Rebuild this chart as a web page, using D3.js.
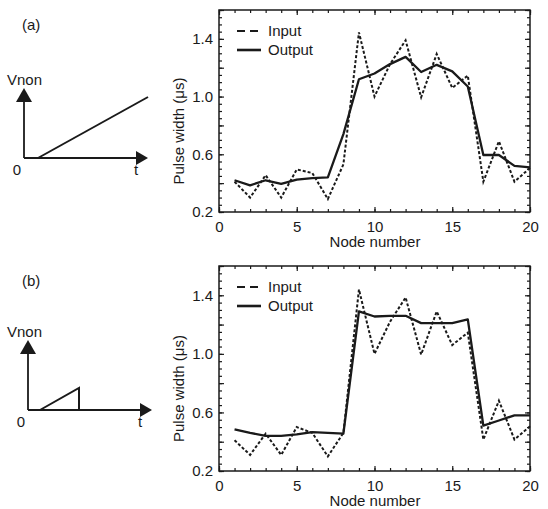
<!DOCTYPE html>
<html>
<head>
<meta charset="utf-8">
<script src="https://cdn.jsdelivr.net/npm/d3@7"></script>
<style>
  body { margin: 0; background: #fff; }
  text { font-family: "Liberation Sans", Arial, sans-serif; fill: #1a1a1a; }
</style>
</head>
<body>
<svg width="548" height="509"></svg>
<script>
// node index along the x axis
var nodes = d3.range(1, 21);

// (a) ramp that keeps rising
var inputA  = [0.41, 0.30, 0.455, 0.30, 0.495, 0.47, 0.29, 0.53, 1.445, 1.00,
               1.225, 1.39, 0.995, 1.295, 1.06, 1.145, 0.41, 0.69, 0.41, 0.505];
var outputA = [0.42, 0.385, 0.42, 0.395, 0.425, 0.435, 0.44, 0.74, 1.12, 1.16,
               1.225, 1.275, 1.17, 1.22, 1.175, 1.07, 0.595, 0.595, 0.52, 0.51];

// (b) ramp cut off early
var inputB  = [0.41, 0.31, 0.455, 0.31, 0.50, 0.46, 0.30, 0.46, 1.44, 1.00,
               1.22, 1.385, 0.995, 1.29, 1.06, 1.145, 0.415, 0.68, 0.415, 0.505];
var outputB = [0.485, 0.46, 0.44, 0.44, 0.45, 0.465, 0.46, 0.455, 1.29, 1.255,
               1.26, 1.26, 1.21, 1.21, 1.21, 1.235, 0.51, 0.545, 0.58, 0.58];

var xTicks = [0, 5, 10, 15, 20];
var yTicks = [0.2, 0.6, 1.0, 1.4];
var seriesNames = ["Input", "Output"];

var ink = "#1a1a1a";
var svg = d3.select("svg");

function panel(top, bottom, label, inp, out, cut, dy) {
    var x = d3.scaleLinear().domain([0, 20]).range([219, 530]);
    var y = d3.scaleLinear().domain([0.2, 1.6]).range([bottom, top]);
    var g = svg.append("g");

    // minor + major ticks, all inward
    var minorY = d3.range(0.2, 1.6001, 0.05), majorY = d3.range(0.2, 1.6001, 0.2);
    var minorX = d3.range(0, 21, 1);
    [[d3.axisLeft, 219, y, minorY, -3], [d3.axisRight, 530, y, minorY, -3],
     [d3.axisLeft, 219, y, majorY, -5], [d3.axisRight, 530, y, majorY, -5]].forEach(a => {
        g.append("g").attr("transform", "translate(" + a[1] + ",0)")
            .call(a[0](a[2]).tickValues(a[3]).tickSize(a[4]).tickFormat(""));
    });
    [[d3.axisBottom, bottom, minorX, -3], [d3.axisTop, top, minorX, -3],
     [d3.axisBottom, bottom, xTicks, -5], [d3.axisTop, top, xTicks, -5]].forEach(a => {
        g.append("g").attr("transform", "translate(0," + a[1] + ")")
            .call(a[0](x).tickValues(a[2]).tickSize(a[3]).tickFormat(""));
    });
    g.selectAll(".domain").remove();
    g.selectAll(".tick line").attr("stroke", ink).attr("stroke-width", 1.2);

    // labelled axes
    g.append("g").attr("transform", "translate(219,0)")
        .call(d3.axisLeft(y).tickValues(yTicks).tickSize(0).tickPadding(6).tickFormat(d3.format(".1f")));
    g.append("g").attr("transform", "translate(0," + bottom + ")")
        .call(d3.axisBottom(x).tickValues(xTicks).tickSize(0).tickPadding(9));
    g.selectAll(".domain").remove();
    g.selectAll(".tick text").attr("font-size", 15).attr("fill", ink)
        .attr("font-family", "'Liberation Sans', Arial, sans-serif");

    g.append("rect").attr("x", 219).attr("y", top).attr("width", 311).attr("height", bottom - top)
        .attr("fill", "none").attr("stroke", ink).attr("stroke-width", 1.5);

    g.append("text").attr("x", 375).attr("y", bottom + 35).attr("text-anchor", "middle")
        .attr("font-size", 15).text("Node number");
    g.append("text").attr("transform", "translate(184," + ((top + bottom) / 2 + 20) + ") rotate(-90)")
        .attr("text-anchor", "middle").attr("font-size", 15).text("Pulse width (\u03bcs)");

    var line = d3.line().x((d, i) => x(nodes[i])).y(d => y(d));
    g.append("path").attr("d", line(inp)).attr("fill", "none").attr("stroke", ink)
        .attr("stroke-width", 2).attr("stroke-dasharray", "3,2");
    g.append("path").attr("d", line(out)).attr("fill", "none").attr("stroke", ink)
        .attr("stroke-width", 2.3).attr("stroke-linejoin", "round");

    // legend
    seriesNames.forEach((s, i) => {
        var ly = top + 21 + i * 19;
        g.append("line").attr("x1", 237).attr("x2", 261).attr("y1", ly).attr("y2", ly)
            .attr("stroke", ink).attr("stroke-width", i ? 2.6 : 2)
            .attr("stroke-dasharray", i ? null : "8,5");
        g.append("text").attr("x", 268).attr("y", ly + 5).attr("font-size", 15).text(s);
    });

    // Vnon(t) sketch on the left
    var ox = 24 + (cut ? 4 : 0), oy = top + dy;
    var h = svg.append("g");
    h.append("text").attr("x", 22).attr("y", top + 20).attr("font-size", 15).text(label);
    h.append("text").attr("x", 7).attr("y", oy - 73).attr("font-size", 15).text("Vnon");
    h.append("text").attr("x", ox - 7).attr("y", oy + 17).attr("text-anchor", "middle").attr("font-size", 15).text("0");
    h.append("text").attr("x", ox + 110).attr("y", oy + 17).attr("font-size", 15).text("t");
    h.append("line").attr("x1", ox).attr("x2", ox).attr("y1", oy).attr("y2", oy - 58).attr("stroke", ink).attr("stroke-width", 1.8);
    h.append("line").attr("x1", ox).attr("x2", ox + 114).attr("y1", oy).attr("y2", oy).attr("stroke", ink).attr("stroke-width", 1.8);
    h.append("path").attr("d", "M" + (ox - 8) + "," + (oy - 56) + "L" + (ox + 8) + "," + (oy - 56) + "L" + ox + "," + (oy - 70) + "Z").attr("fill", ink);
    h.append("path").attr("d", "M" + (ox + 112) + "," + (oy - 7) + "L" + (ox + 112) + "," + (oy + 7) + "L" + (ox + 124) + "," + oy + "Z").attr("fill", ink);
    var r = cut ? [[ox + 12, oy], [ox + 51, oy - 22], [ox + 51, oy]] : [[ox + 14, oy], [ox + 124, oy - 61]];
    h.append("path").attr("d", "M" + r.join("L")).attr("fill", "none").attr("stroke", ink).attr("stroke-width", 2);
}

panel(10, 212, "(a)", inputA, outputA, false, 148);
panel(266, 471, "(b)", inputB, outputB, true, 144);
</script>
</body>
</html>
